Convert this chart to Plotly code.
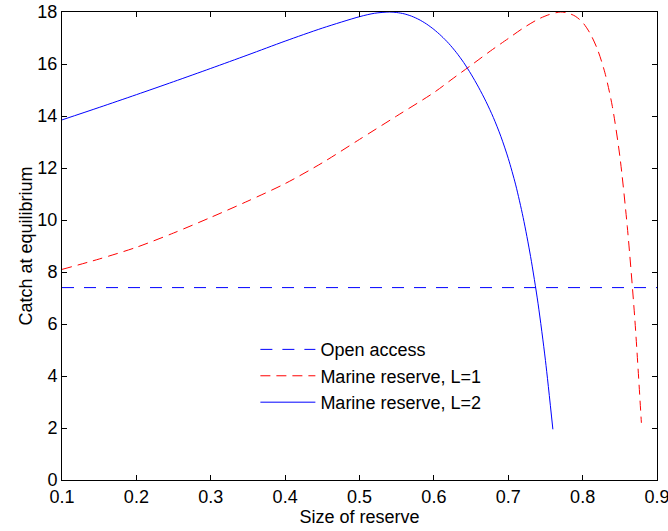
import plotly.graph_objects as go

# Data
x_open = [0.1, 0.9]
y_open = [7.4, 7.4]

x_l1 = [0.10, 0.15, 0.20, 0.25, 0.30, 0.35, 0.40, 0.45, 0.50, 0.55, 0.60, 0.626, 0.65, 0.676,
        0.70, 0.72, 0.74, 0.755, 0.77, 0.78, 0.79, 0.80, 0.81, 0.82, 0.83, 0.84, 0.85, 0.86, 0.87, 0.879]
y_l1 = [8.1, 8.5, 8.95, 9.5, 10.1, 10.73, 11.4, 12.2, 13.1, 14.0, 14.9, 15.45, 15.95, 16.5,
        16.98, 17.38, 17.72, 17.9, 18.0, 17.96, 17.84, 17.6, 17.18, 16.56, 15.66, 14.36, 12.46, 9.76, 6.26, 2.2]

x_l2 = [0.10, 0.15, 0.20, 0.25, 0.30, 0.35, 0.40, 0.45, 0.50, 0.52, 0.54, 0.55, 0.56, 0.57, 0.58,
        0.59, 0.60, 0.61, 0.62, 0.63, 0.64, 0.65, 0.66, 0.67, 0.68, 0.69, 0.70, 0.71, 0.72, 0.73,
        0.74, 0.75, 0.76]
y_l2 = [13.85, 14.33, 14.82, 15.32, 15.83, 16.35, 16.88, 17.38, 17.82, 17.95, 18.0, 17.98, 17.93, 17.84, 17.71,
        17.54, 17.33, 17.08, 16.79, 16.45, 16.06, 15.61, 15.11, 14.56, 13.94, 13.22, 12.37, 11.35, 10.1, 8.6,
        6.8, 4.6, 1.95]

x_ticks = [0.1, 0.2, 0.3, 0.4, 0.5, 0.6, 0.7, 0.8, 0.9]
x_ticklabels = ["0.1", "0.2", "0.3", "0.4", "0.5", "0.6", "0.7", "0.8", "0.9"]
y_ticks = [0, 2, 4, 6, 8, 10, 12, 14, 16, 18]

FONT = "Liberation Sans, Arial, Helvetica, sans-serif"
FS = 18

fig = go.Figure()
fig.add_trace(go.Scatter(x=x_open, y=y_open, mode="lines", name="Open access",
                         line=dict(color="#0000ff", width=1, dash="12px,10px")))
fig.add_trace(go.Scatter(x=x_l1, y=y_l1, mode="lines", name="Marine reserve, L=1",
                         line=dict(color="#ff0000", width=1, dash="10px,6px", shape="spline", smoothing=0.8)))
fig.add_trace(go.Scatter(x=x_l2, y=y_l2, mode="lines", name="Marine reserve, L=2",
                         line=dict(color="#0000ff", width=1, shape="spline", smoothing=0.8)))

axis_common = dict(showline=True, linecolor="black", linewidth=1, mirror="ticks",
                   ticks="inside", ticklen=5, tickcolor="black", showgrid=False, zeroline=False,
                   automargin=False, ticklabeloverflow="allow",
                   tickfont=dict(family=FONT, size=FS, color="black"))

fig.update_xaxes(range=[0.1, 0.9], tickvals=x_ticks, ticktext=x_ticklabels,
                 title=dict(text="Size of reserve", font=dict(family=FONT, size=FS, color="black"), standoff=3),
                 **axis_common)
fig.update_yaxes(range=[0, 18], tickvals=y_ticks,
                 title=dict(text="Catch at equilibrium", font=dict(family=FONT, size=FS, color="black"), standoff=0),
                 **axis_common)

fig.update_layout(
    width=668, height=531,
    margin=dict(l=62, r=11, t=12, b=51),
    plot_bgcolor="white", paper_bgcolor="white",
    font=dict(family=FONT, size=FS, color="black"),
    legend=dict(x=0.325, y=0.318, xanchor="left", yanchor="top", bgcolor="rgba(0,0,0,0)",
                font=dict(family=FONT, size=FS, color="black"), itemwidth=55, tracegroupgap=0),
    showlegend=True,
)

fig.write_html("out.html")
